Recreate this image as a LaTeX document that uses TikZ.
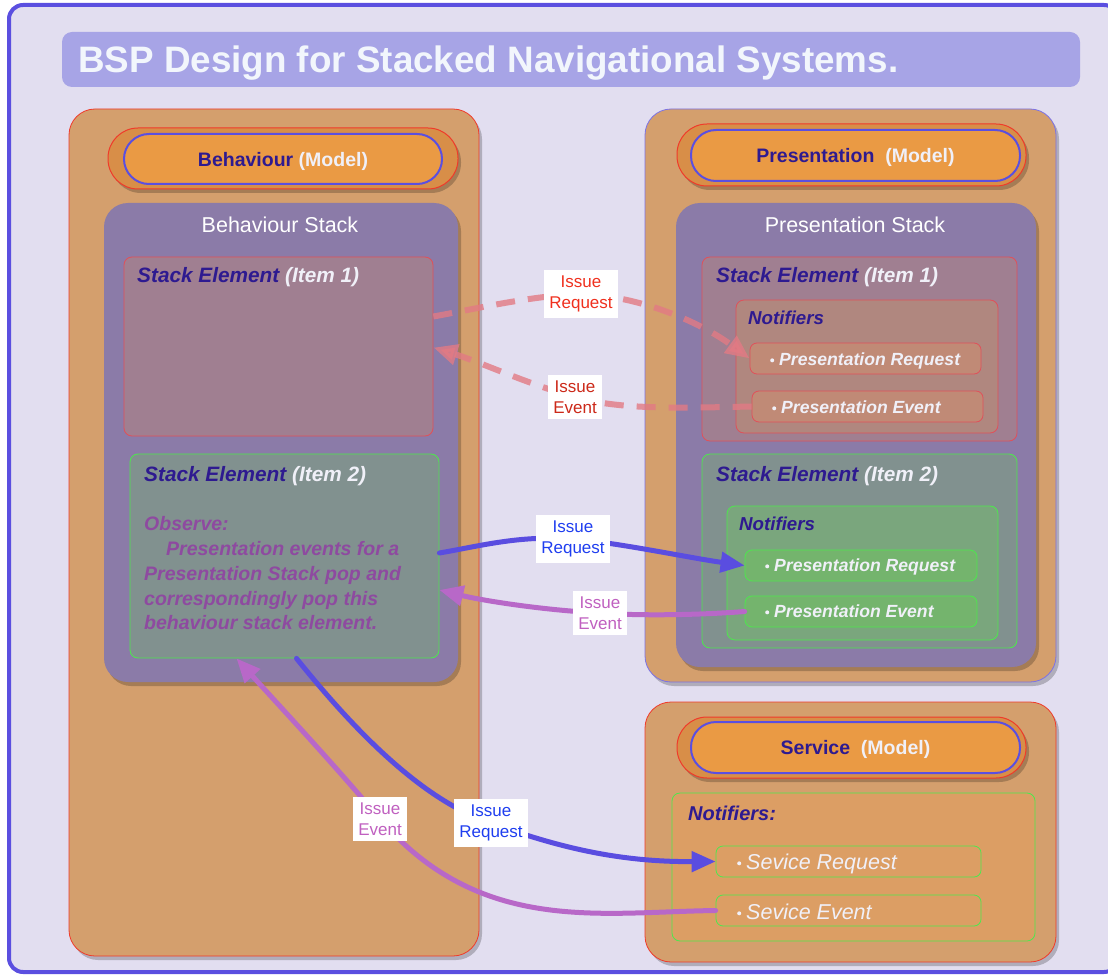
\documentclass[tikz,border=0pt]{standalone}
\usepackage{fontspec}
\setmainfont{Liberation Sans}
\usetikzlibrary{fit,shadows,arrows.meta}

\definecolor{framecol}{HTML}{5B4FE0}
\definecolor{bgcol}{HTML}{E2DEF0}
\definecolor{titlebar}{HTML}{A7A4E6}
\definecolor{titletext}{HTML}{F2F6FC}
\definecolor{tan}{HTML}{D49F6D}
\definecolor{redline}{HTML}{F03A2A}
\definecolor{pillout}{HTML}{D88E48}
\definecolor{pillin}{HTML}{EA9A44}
\definecolor{stackcol}{HTML}{8B7BA8}
\definecolor{itemred}{HTML}{A07F91}
\definecolor{itemredline}{HTML}{E0505A}
\definecolor{itemgreen}{HTML}{81918F}
\definecolor{greenline}{HTML}{4DE84D}
\definecolor{notred}{HTML}{B0877F}
\definecolor{boxred}{HTML}{C08A76}
\definecolor{notgreen}{HTML}{7AA67D}
\definecolor{boxgreen}{HTML}{74B46D}
\definecolor{notsvc}{HTML}{DC9E64}
\definecolor{darkblue}{HTML}{2E1A90}
\definecolor{whitish}{HTML}{F0F0F8}
\definecolor{observe}{HTML}{8E4AA0}
\definecolor{redlab}{HTML}{F0301E}
\definecolor{bluelab}{HTML}{1F3EF0}
\definecolor{purplab}{HTML}{C060C0}
\definecolor{bluearrow}{HTML}{5A4DE0}
\definecolor{purparrow}{HTML}{B868C8}
\definecolor{reddash}{HTML}{E27A84}

\pgfdeclarelayer{conn}
\pgfdeclarelayer{top}
\pgfsetlayers{main,conn,top}

\tikzset{
  softshadow/.style={drop shadow={shadow xshift=3pt,shadow yshift=-4pt,opacity=0.22,fill=black}},
  panel/.style={fill=tan,rounded corners=26pt,inner sep=0pt,line width=0.8pt,softshadow},
  pillouter/.style={fill=pillout,draw=redline,line width=1pt,rounded corners=30pt,inner sep=0pt,softshadow},
  pillinner/.style={fill=pillin,draw=framecol,line width=2pt,rounded corners=25pt,inner sep=0pt},
  stackbox/.style={fill=stackcol,rounded corners=24pt,inner sep=0pt,softshadow},
  itembox/.style={rounded corners=8pt,inner sep=0pt,line width=0.8pt},
  notebox/.style={rounded corners=8pt,inner sep=0pt,line width=0.8pt},
  sigbox/.style={rounded corners=7pt,inner sep=0pt,line width=0.8pt},
  pilltext/.style={font=\fontsize{19.5}{22}\selectfont\bfseries,text=darkblue,inner sep=0pt},
  stacktitle/.style={font=\fontsize{21.5}{24}\selectfont,text=white,inner sep=0pt,anchor=base},
  itemtitle/.style={font=\fontsize{20.8}{24}\selectfont\bfseries\itshape,text=darkblue,inner sep=0pt,anchor=base west},
  nottitle/.style={font=\fontsize{18.7}{22}\selectfont\bfseries\itshape,text=darkblue,inner sep=0pt,anchor=base west},
  sigtext/.style={font=\fontsize{17.6}{20}\selectfont\bfseries\itshape,text=whitish,inner sep=0pt,anchor=base west},
  svctext/.style={font=\fontsize{21.5}{24}\selectfont\itshape,text=whitish,inner sep=0pt,anchor=base west},
  obstext/.style={font=\fontsize{19.5}{22}\selectfont\bfseries\itshape,text=observe,inner sep=0pt,anchor=base west},
  lab/.style={fill=white,font=\fontsize{17}{21}\selectfont,align=center,inner xsep=5pt,inner ysep=5.5pt},
  reqdash/.style={draw=reddash,opacity=0.8,line width=6pt,dash pattern=on 19pt off 13pt,
     -{Triangle[length=24pt,width=20pt]}},
  bluecon/.style={draw=bluearrow,line width=5pt,line cap=round,-{Triangle[length=24pt,width=20pt]}},
  purpcon/.style={draw=purparrow,line width=5pt,line cap=round,-{Triangle[length=24pt,width=20pt]}}
}

% small round list bullet placed before each notifier name
\newcommand{\bul}{\raisebox{0.5ex}{\tikz[baseline]\fill (0,0) circle[radius=2pt];}\hspace{5pt}}

\begin{document}
\begin{tikzpicture}[x=1pt,y=-1pt]
\useasboundingbox (0,0) rectangle (1108,976);

% outer frame and title
\node[fill=bgcol,draw=framecol,line width=4pt,rounded corners=14pt,inner sep=0pt,
      fit={(9,5) (1118,972)}] (frame) {};
\node[fill=titlebar,rounded corners=10pt,inner sep=0pt,fit={(62,32) (1080,87)}] (titlebar) {};
\node[anchor=base west,inner sep=0pt,text=titletext,font=\fontsize{36.8}{40}\selectfont\bfseries]
  (title) at (78,73) {BSP Design for Stacked Navigational Systems.};

% ---------- Behaviour model ----------
\node[panel,draw=redline,fit={(69,109) (479,956)}] (beh) {};
\node[pillouter,fit={(108,128) (458,189)}] (behpo) {};
\node[pillinner,fit={(124,134) (442,184)}] (behpi) {};
\node[pilltext] (behpt) at ([yshift=-2pt]behpi.center) {Behaviour \textcolor{whitish}{(Model)}};

\node[stackbox,fit={(104,203) (458,682)}] (bst) {};
\node[stacktitle] (bstt) at (280,233) {Behaviour Stack};

\node[itembox,fill=itemred,draw=itemredline,fit={(124,257) (433,436)}] (li1) {};
\node[itemtitle] (li1t) at (137,283) {Stack Element \textcolor{whitish}{(Item 1)}};

\node[itembox,fill=itemgreen,draw=greenline,fit={(130,454) (439,658)}] (li2) {};
\node[itemtitle] (li2t) at (144,481) {Stack Element \textcolor{whitish}{(Item 2)}};
\node[obstext] (ob1) at (144,530) {Observe:};
\node[obstext] (ob2) at (166,555) {Presentation events for a};
\node[obstext] (ob3) at (144,580) {Presentation Stack pop and};
\node[obstext] (ob4) at (144,605) {correspondingly pop this};
\node[obstext] (ob5) at (144,629) {behaviour stack element.};

% ---------- Presentation model ----------
\node[panel,draw=framecol!80,fit={(645,109) (1056,682)}] (pres) {};
\node[pillouter,fit={(677,124) (1026,186)}] (prespo) {};
\node[pillinner,fit={(691,130) (1020,181)}] (prespi) {};
\node[pilltext] (prespt) at ([yshift=-2pt]prespi.center) {Presentation\ \ \textcolor{whitish}{(Model)}};

\node[stackbox,fit={(676,203) (1036,667)}] (pst) {};
\node[stacktitle] (pstt) at (855,233) {Presentation Stack};

\node[itembox,fill=itemred,draw=itemredline,fit={(702,257) (1017,441)}] (ri1) {};
\node[itemtitle] (ri1t) at (716,283) {Stack Element \textcolor{whitish}{(Item 1)}};
\node[notebox,fill=notred,draw=itemredline,fit={(736,300) (998,433)}] (rn1) {};
\node[nottitle] (rn1t) at (748,324) {Notifiers};
\node[sigbox,fill=boxred,draw=itemredline,fit={(750,343) (981,374)}] (preq1) {};
\node[sigtext] (preq1t) at (770,365) {\bul Presentation Request};
\node[sigbox,fill=boxred,draw=itemredline,fit={(752,391) (983,422)}] (pev1) {};
\node[sigtext] (pev1t) at (772,413) {\bul Presentation Event};

\node[itembox,fill=itemgreen,draw=greenline,fit={(702,454) (1017,648)}] (ri2) {};
\node[itemtitle] (ri2t) at (716,481) {Stack Element \textcolor{whitish}{(Item 2)}};
\node[notebox,fill=notgreen,draw=greenline,fit={(727,506) (998,640)}] (rn2) {};
\node[nottitle] (rn2t) at (739,530) {Notifiers};
\node[sigbox,fill=boxgreen,draw=greenline,fit={(745,550) (977,581)}] (preq2) {};
\node[sigtext] (preq2t) at (765,571) {\bul Presentation Request};
\node[sigbox,fill=boxgreen,draw=greenline,fit={(745,596) (977,627)}] (pev2) {};
\node[sigtext] (pev2t) at (765,617) {\bul Presentation Event};

% ---------- Service model ----------
\node[panel,draw=redline,fit={(645,702) (1056,962)}] (svc) {};
\node[pillouter,fit={(677,717) (1026,778)}] (svcpo) {};
\node[pillinner,fit={(691,722) (1020,773)}] (svcpi) {};
\node[pilltext] (svcpt) at ([yshift=-2pt]svcpi.center) {Service\ \ \textcolor{whitish}{(Model)}};

\node[notebox,fill=notsvc,draw=greenline,fit={(672,793) (1035,941)}] (sn) {};
\node[nottitle,font=\fontsize{20}{23}\selectfont\bfseries\itshape] (snt) at (688,820) {Notifiers:};
\node[sigbox,fill=notsvc,draw=greenline,fit={(716,846) (981,877)}] (sreq) {};
\node[svctext] (sreqt) at (737,869) {\bul Sevice Request};
\node[sigbox,fill=notsvc,draw=greenline,fit={(716,895) (981,926)}] (sev) {};
\node[svctext] (sevt) at (737,919) {\bul Sevice Event};

% ---------- connector labels ----------
\begin{pgfonlayer}{top}
\node[lab,text=redlab] (l1) at (581,294) {Issue\\Request};
\node[lab,text=redlab!85!black] (l2) at (575,397) {Issue\\Event};
\node[lab,text=bluelab] (l3) at (573,539) {Issue\\Request};
\node[lab,text=purplab] (l4) at (600,613) {Issue\\Event};
\node[lab,text=bluelab] (l5) at (491,823) {Issue\\Request};
\node[lab,text=purplab] (l6) at (380,819) {Issue\\Event};
\end{pgfonlayer}

% ---------- connectors ----------
\begin{pgfonlayer}{conn}
\draw[reqdash] ([yshift=30pt]li1.east) .. controls (480,308) and (530,296) .. (l1.center)
  .. controls (640,296) and (700,322) .. (preq1.west);
\draw[reqdash] (pev1.west) .. controls (680,408) and (620,410) .. (l2.center)
  .. controls (530,385) and (480,362) .. ([yshift=-1pt]li1.east);
\draw[bluecon] ([yshift=3pt]li2.east) .. controls (480,546) and (520,535) .. (l3.center)
  .. controls (620,543) and (690,558) .. (preq2.west);
\draw[purpcon] (pev2.west) .. controls (700,615) and (640,616) .. (l4.center)
  .. controls (540,610) and (480,600) .. ([yshift=-34pt]li2.east);
\draw[bluecon] ([xshift=12pt]li2.south) .. controls (350,725) and (420,800) .. (l5.center)
  .. controls (560,848) and (620,862) .. (sreq.west);
\draw[purpcon] (sev.west) .. controls (600,912) and (480,935) .. (l6.center)
  .. controls (330,760) and (285,712) .. ([xshift=-48pt]li2.south);
\end{pgfonlayer}
\end{tikzpicture}
\end{document}
